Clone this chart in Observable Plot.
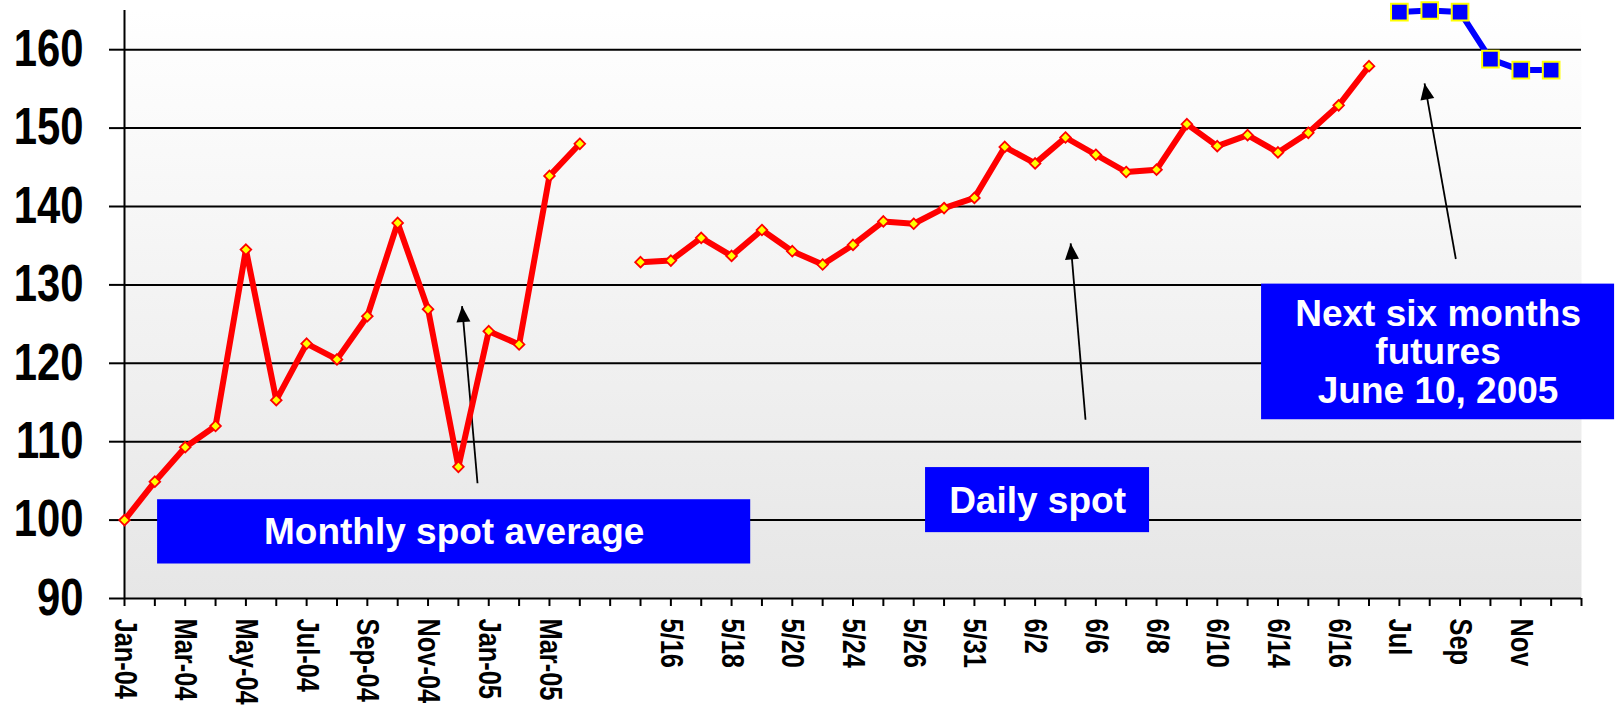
<!DOCTYPE html>
<html><head><meta charset="utf-8">
<script src="https://cdn.jsdelivr.net/npm/d3@7"></script>
<script src="https://cdn.jsdelivr.net/npm/@observablehq/plot@0.6"></script>
<style>
html,body{margin:0;padding:0;background:#fff;}
#chart svg{display:block;}
</style></head><body><div id="chart"></div>
<script>
// ---- data ----
const categories = ["Jan-04","Feb-04","Mar-04","Apr-04","May-04","Jun-04","Jul-04","Aug-04","Sep-04","Oct-04","Nov-04","Dec-04","Jan-05","Feb-05","Mar-05","Apr-05","gap",
  "5/13","5/16","5/17","5/18","5/19","5/20","5/23","5/24","5/25","5/26","5/27","5/31","6/1","6/2","6/3","6/6","6/7","6/8","6/9","6/10","6/13","6/14","6/15","6/16","6/17",
  "Jul","Aug","Sep","Oct","Nov","Dec","end"];
const tickLabels = ["Jan-04","Mar-04","May-04","Jul-04","Sep-04","Nov-04","Jan-05","Mar-05",
  "5/16","5/18","5/20","5/24","5/26","5/31","6/2","6/6","6/8","6/10","6/14","6/16","Jul","Sep","Nov"];
const monthlyValues = [100, 104.9, 109.3, 112.0, 134.5, 115.3, 122.5, 120.5, 126.0, 137.9, 126.9, 106.8, 124.1, 122.4, 143.9, 148.0];
const dailyValues = [132.9, 133.1, 136.0, 133.7, 137.0, 134.3, 132.6, 135.1, 138.1, 137.8, 139.8, 141.1, 147.6, 145.5, 148.8, 146.6, 144.4,
  144.7, 150.5, 147.7, 149.1, 146.9, 149.4, 152.9, 157.9];
const futuresValues = [164.8, 165.0, 164.8, 158.8, 157.4, 157.4];
const yTicks = [90, 100, 110, 120, 130, 140, 150, 160];
const gridValues = [100, 110, 120, 130, 140, 150, 160];

// annotation boxes and arrows (in category-index / value units)
const boxes = [
  {text: "Monthly spot average", x1: 1.09, x2: 20.63, y1: 94.4, y2: 102.6},
  {text: "Daily spot", x1: 26.39, x2: 33.77, y1: 98.4, y2: 106.7},
  {text: "Next six months\nfutures\nJune 10, 2005", x1: 37.46, x2: 49.09, y1: 112.8, y2: 130.1}
];
const arrows = [
  {x1: 11.63, y1: 104.7, x2: 11.12, y2: 127.3},
  {x1: 31.66, y1: 112.8, x2: 31.17, y2: 135.3},
  {x1: 43.86, y1: 133.3, x2: 42.83, y2: 155.7}
];

// ---- build ----
const series = (vals, start) => vals.map((v, i) => ({x: categories.indexOf(start) + i, y: v}));
const monthly = series(monthlyValues, "Jan-04");
const daily = series(dailyValues, "5/13");
const futures = series(futuresValues, "Jul");
const xLabel = i => tickLabels.includes(categories[i]) ? categories[i] : "";

const svg = Plot.plot({
  width: 1619, height: 710,
  marginLeft: 124, marginRight: 38, marginTop: 10, marginBottom: 112,
  x: {type: "linear", domain: [0, categories.length - 1]},
  y: {domain: [90, 165]},
  style: {fontFamily: "'Liberation Sans', Arial, sans-serif", color: "#000", background: "transparent", overflow: "visible"},
  marks: [
    Plot.frame({fill: "url(#plotBg)", stroke: "none"}),
    Plot.ruleY(gridValues, {stroke: "#000", strokeWidth: 2}),
    Plot.rect(boxes, {x1: "x1", x2: "x2", y1: "y1", y2: "y2", fill: "#0000ff"}),
    Plot.text(boxes, {x: d => (d.x1 + d.x2) / 2, y: d => (d.y1 + d.y2) / 2, text: "text", fill: "#ffffff",
      fontSize: 37, fontWeight: "bold", lineHeight: 1.05}),
    Plot.link(arrows, {x1: "x1", y1: "y1", x2: "x2", y2: "y2", stroke: "#000", strokeWidth: 1.8, markerEnd: "arrow"}),
    Plot.ruleX([0], {stroke: "#000", strokeWidth: 2}),
    Plot.ruleY([90], {stroke: "#000", strokeWidth: 2}),
    Plot.axisY({ticks: yTicks, tickSize: 15, tickPadding: 26, fontSize: 51, fontWeight: "bold", strokeWidth: 2, label: null}),
    Plot.axisX({ticks: d3.range(categories.length), tickFormat: xLabel, tickRotate: 90, tickSize: 8, tickPadding: 12,
      fontSize: 31, fontWeight: "bold", strokeWidth: 2, label: null}),
    Plot.line(monthly, {x: "x", y: "y", stroke: "#ff0000", strokeWidth: 6}),
    Plot.dot(monthly, {x: "x", y: "y", symbol: "diamond2", r: 4.8, fill: "#ffff00", stroke: "#ff0000", strokeWidth: 1.8}),
    Plot.line(daily, {x: "x", y: "y", stroke: "#ff0000", strokeWidth: 6}),
    Plot.dot(daily, {x: "x", y: "y", symbol: "diamond2", r: 4.8, fill: "#ffff00", stroke: "#ff0000", strokeWidth: 1.8}),
    Plot.line(futures, {x: "x", y: "y", stroke: "#0000ff", strokeWidth: 6}),
    Plot.dot(futures, {x: "x", y: "y", symbol: "square", r: 9.4, fill: "#0000ff", stroke: "#ffff00", strokeWidth: 2})
  ]
});

const root = d3.select(svg);

// condensed tick labels (narrow bold face, as in the original)
root.selectAll('g[aria-label="y-axis tick label"] text, g[aria-label="x-axis tick label"] text').each(function () {
  const t = d3.select(this);
  const tr = t.attr("transform");
  if (tr) {
    t.attr("transform", tr + " scale(0.82,1)");
  } else {
    const x = +t.attr("x") || 0, y = +t.attr("y") || 0;
    t.attr("x", null).attr("y", null).attr("transform", `translate(${x},${y}) scale(0.82,1)`);
  }
});

// gradient background for the plot area
const defs = root.insert("defs", ":first-child");
const grad = defs.append("linearGradient").attr("id", "plotBg").attr("x1", 0).attr("y1", 0).attr("x2", 0).attr("y2", 1);
grad.append("stop").attr("offset", "0%").attr("stop-color", "#ffffff");
grad.append("stop").attr("offset", "100%").attr("stop-color", "#e6e6e6");

// filled arrowheads
root.selectAll("marker").each(function () {
  const m = d3.select(this);
  m.attr("markerUnits", "userSpaceOnUse").attr("viewBox", "-17 -8 18 16")
   .attr("markerWidth", 18).attr("markerHeight", 16).attr("refX", 0).attr("refY", 0)
   .attr("fill", "#000").attr("stroke", "none");
  m.selectAll("*").remove();
  m.append("path").attr("d", "M-16,-7L0,0L-16,7Z").attr("fill", "#000");
});

document.getElementById("chart").appendChild(svg);
</script>
</body></html>
